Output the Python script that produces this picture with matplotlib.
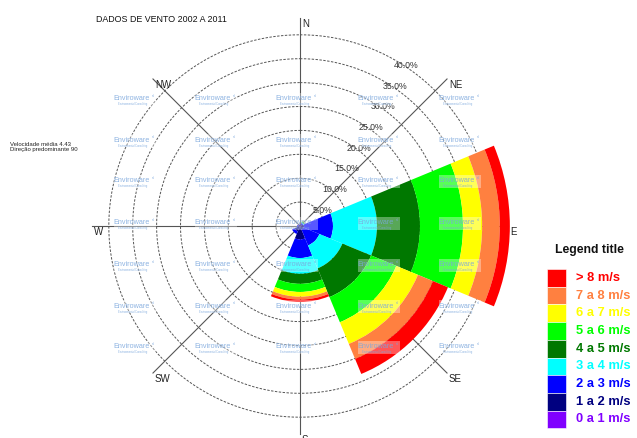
import numpy as np
import matplotlib
matplotlib.use('Agg')
import matplotlib.pyplot as plt
from matplotlib.patches import Rectangle

plt.rcParams['font.family'] = ['Liberation Sans', 'DejaVu Sans']

W, H = 637, 438

directions = ['N', 'NE', 'E', 'SE', 'S', 'SW', 'W', 'NW']
dir_angles = [0, 45, 90, 135, 180, 225, 270, 315]
speed_bins = ['0 a 1 m/s', '1 a 2 m/s', '2 a 3 m/s', '3 a 4 m/s', '4 a 5 m/s',
              '5 a 6 m/s', '6 a 7 m/s', '7 a 8 m/s', '> 8 m/s']
bin_colors = ['#8000ff', '#000080', '#0000ff', '#00ffff', '#007800',
              '#00ff00', '#ffff00', '#ff8040', '#ff0000']

# frequency (%) of each speed class, per direction
freq_N = [0.1, 0.1, 0.1, 0.0, 0.0, 0.0, 0.0, 0.0, 0.0]
freq_NE = [0.1, 0.3, 0.3, 0.2, 0.1, 0.1, 0.05, 0.05, 0.0]
freq_E = [0.2, 0.6, 6.1, 9.2, 9.0, 9.0, 4.0, 3.7, 2.1]
freq_SE = [0.2, 0.6, 3.6, 5.2, 6.5, 5.7, 4.9, 3.4, 3.4]
freq_S = [0.2, 2.6, 3.9, 3.3, 2.1, 1.7, 1.0, 0.6, 0.5]
freq_SW = [0.2, 1.0, 0.6, 0.0, 0.0, 0.0, 0.0, 0.0, 0.0]
freq_W = [0.1, 0.3, 0.2, 0.0, 0.0, 0.0, 0.0, 0.0, 0.0]
freq_NW = [0.1, 0.2, 0.1, 0.0, 0.0, 0.0, 0.0, 0.0, 0.0]

rings = [5, 10, 15, 20, 25, 30, 35, 40]

freqs = np.array([freq_N, freq_NE, freq_E, freq_SE, freq_S, freq_SW, freq_W, freq_NW])

# rose geometry
cx, cy = 300, 226
px_per_pct = 4.78
rmax = 46
rpx = rmax * px_per_pct

fig = plt.figure(figsize=(W / 100, H / 100), dpi=100)
ax = fig.add_axes([(cx - rpx) / W, (H - cy - rpx) / H, 2 * rpx / W, 2 * rpx / H],
                  projection='polar')
ax.set_theta_zero_location('N')
ax.set_theta_direction(-1)
ax.set_ylim(0, rmax)
ax.set_axis_off()

theta = np.radians(dir_angles)
circ = np.linspace(0, 2 * np.pi, 721)
for r in rings:
    ax.plot(circ, np.full_like(circ, r), color='#555555', lw=0.7,
            ls=(0, (2.5, 1.5)), zorder=1)
for t in theta:
    ax.plot([t, t], [0, 43.5], color='#555555', lw=0.8, zorder=1)

bottom = np.zeros(len(directions))
for k, col in enumerate(bin_colors):
    ax.bar(theta, freqs[:, k], width=np.radians(45), bottom=bottom,
           color=col, edgecolor='none', align='center', zorder=2)
    bottom += freqs[:, k]

for r in rings:
    ax.annotate(f'{r:.1f}%', xy=(np.radians(30), r), xytext=(11, -5),
                textcoords='offset pixels', ha='center', va='center',
                fontsize=6.3, color='#333333', zorder=3)

for name, t in zip(directions, theta):
    ax.annotate(name, xy=(t, 43.5), xytext=(2, -1), textcoords='offset pixels',
                ha='left', va='top', fontsize=7, color='#222222', zorder=3)

# overlay in pixel coordinates for texts, legend and watermark
ov = fig.add_axes([0, 0, 1, 1], zorder=5)
ov.set_xlim(0, W)
ov.set_ylim(H, 0)
ov.set_axis_off()
ov.patch.set_alpha(0)

ov.text(161, 20, 'DADOS DE VENTO 2002 A 2011', ha='center', va='center',
        fontsize=6.4, color='#111111')
ov.text(10, 144, 'Velocidade média 4.43', ha='left', va='center', fontsize=4.3,
        color='#222222')
ov.text(10, 150, 'Direção predominante 90', ha='left', va='center', fontsize=4.3,
        color='#222222')

for xc in [134, 215, 296, 378, 459]:
    for yc in [100, 141, 182, 224, 266, 307, 348]:
        ov.add_patch(Rectangle((xc - 20, yc - 7), 42, 13, facecolor='white',
                               edgecolor='none', alpha=0.35))
        ov.text(xc - 2, yc - 1, 'Enviroware', ha='center', va='center',
                fontsize=5.2, color='#7aa6dc', alpha=0.85)
        ov.text(xc + 19, yc - 4, 'srl', ha='center', va='center',
                fontsize=2, color='#7aa6dc', alpha=0.85)
        ov.text(xc - 1, yc + 4.5, 'Environmental Consulting', ha='center',
                va='center', fontsize=1.9, color='#7aa6dc', alpha=0.85)

# legend
ov.text(589, 250, 'Legend title', ha='center', va='center', fontsize=8.8,
        fontweight='bold', color='#111111')
box_h = 17.7
for i, (lab, col) in enumerate(zip(speed_bins[::-1], bin_colors[::-1])):
    y0 = 269 + i * box_h
    ov.add_patch(Rectangle((547, y0), 19, box_h, facecolor=col,
                           edgecolor='white', lw=0.4))
    ov.text(576, y0 + box_h / 2, lab, ha='left', va='center', fontsize=9.3,
            fontweight='bold', color=col)

fig.savefig('out.png', dpi=100)
